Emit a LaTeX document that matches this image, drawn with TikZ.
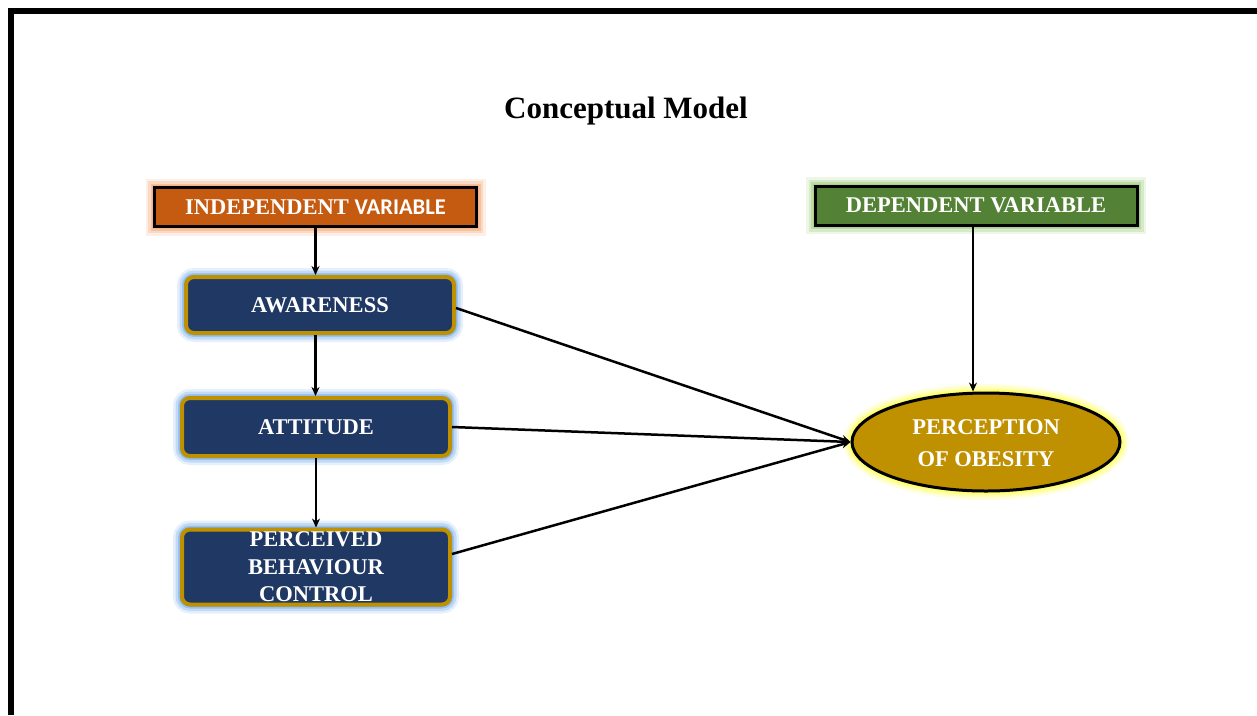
\documentclass[tikz,border=0pt]{standalone}
\usepackage{fontspec}
\setmainfont{Liberation Serif}
\newfontfamily\calib{Carlito}
\usetikzlibrary{shapes.geometric,arrows.meta}

\definecolor{ivfill}{HTML}{C55A11}
\definecolor{ivglow}{HTML}{F4B183}
\definecolor{dvfill}{HTML}{538135}
\definecolor{dvglow}{HTML}{A9D18E}
\definecolor{boxfill}{HTML}{1F3864}
\definecolor{boxglow}{HTML}{7FB2EA}
\definecolor{gold}{HTML}{BF9000}
\definecolor{yglow}{HTML}{FFFF66}

\tikzset{
  glow/.style={
    preaction={draw=#1,line width=18pt,opacity=0.2},
    preaction={draw=#1,line width=13pt,opacity=0.35},
    preaction={draw=#1,line width=8pt,opacity=0.6},
    preaction={draw=#1,line width=5pt,opacity=0.9}},
  varbox/.style={draw=black,line width=3pt,inner sep=0pt,
    minimum width=322pt,minimum height=39pt,text=white,
    font=\fontsize{22.5}{27}\selectfont\bfseries},
  constr/.style={draw=gold,fill=boxfill,line width=4pt,rounded corners=8pt,
    glow=boxglow,inner sep=0pt,minimum width=268pt,text=white,align=center,
    font=\fontsize{22.5}{27.5}\selectfont\bfseries},
  >={Stealth[length=9pt,width=8pt]}
}

\begin{document}
\begin{tikzpicture}[x=1pt,y=-1pt]
\useasboundingbox (0,0) rectangle (1257,715);
\draw[line width=6pt] (11,715) -- (11,11) -- (1257,11);

\node (T) at (626,111) {\fontsize{31}{36}\selectfont\bfseries Conceptual Model};

\node[varbox,fill=ivfill,glow=ivglow] (IV) at (315.5,207)
{INDEPENDENT {\calib VARIABLE}};
\node[varbox,fill=dvfill,glow=dvglow] (DV) at (976,205.5)
{DEPENDENT VARIABLE};

\node[constr,minimum height=56pt] (AW) at (320,305) {AWARENESS};
\node[constr,minimum height=58pt] (AT) at (316,427) {ATTITUDE};
\node[constr,minimum height=75pt] (PBC) at (316,567)
{PERCEIVED\\BEHAVIOUR\\CONTROL};

\node[ellipse,draw=black,line width=3pt,fill=gold,glow=yglow,inner sep=0pt,
  minimum width=268pt,minimum height=98pt,text=white,align=center,
  font=\fontsize{22.5}{32}\selectfont\bfseries] (PO) at (986,442)
{\rule{0pt}{18pt}PERCEPTION\\OF OBESITY};

\draw[->,line width=2.5pt] (IV.south) -- (IV.south |- AW.north);
\draw[->,line width=2.5pt] (AW.south -| IV.south) -- (IV.south |- AT.north);
\draw[->,line width=2.5pt] (AT.south) -- (PBC.north);
\draw[->,line width=2pt] (DV.south -| 973,0) -- (973,0 |- PO.north);
\draw[->,line width=2.5pt] ([yshift=-3pt]AW.east) -- (PO.west);
\draw[->,line width=2.5pt] (AT.east) -- (PO.west);
\draw[->,line width=2.5pt] ([yshift=13pt]PBC.east) -- (PO.west);
\end{tikzpicture}
\end{document}
